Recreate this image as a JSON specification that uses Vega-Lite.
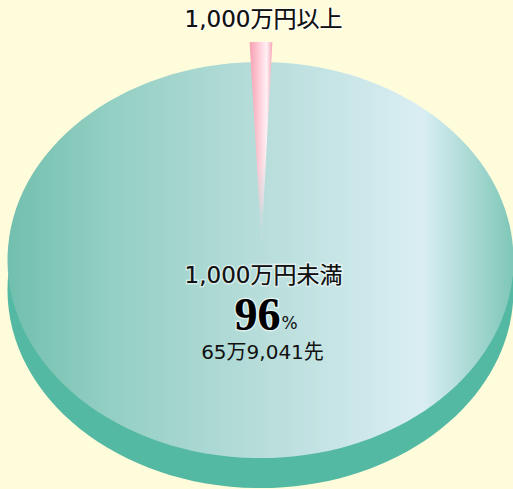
{
  "$schema": "https://vega.github.io/schema/vega-lite/v6.json",
  "width": 513,
  "height": 489,
  "autosize": {"type": "fit", "contains": "padding"},
  "padding": 0,
  "background": "#FFFCDC",
  "config": {"view": {"stroke": null}},
  "datasets": {
    "pie": [
      {"category": "1,000万円未満", "share": 96, "count": "65万9,041先", "cx": 261, "cy": 260},
      {"category": "1,000万円以上", "share": 4, "count": "", "cx": 262, "cy": 240}
    ],
    "labels": [
      {"role": "outer", "text": "1,000万円以上", "x": 264, "y": 20},
      {"role": "inner", "text": "1,000万円未満", "x": 264, "y": 276},
      {"role": "count", "text": "65万9,041先", "x": 263, "y": 353},
      {"role": "pct", "text": "96", "x": 281, "y": 330},
      {"role": "pctsign", "text": "%", "x": 282, "y": 329}
    ]
  },
  "encoding": {
    "x": {"field": "x", "type": "quantitative", "scale": {"domain": [0, 513]}, "axis": null},
    "y": {"field": "y", "type": "quantitative", "scale": {"domain": [0, 489], "reverse": true}, "axis": null}
  },
  "layer": [
    {
      "data": {"name": "pie"},
      "transform": [{"filter": "datum.share > 50"}, {"calculate": "datum.cy + 30", "as": "sy"}],
      "mark": {
        "type": "point",
        "shape": "M -1 0 A 1 0.783 0 1 0 1 0 A 1 0.783 0 1 0 -1 0 Z",
        "size": 256036,
        "filled": true,
        "opacity": 1,
        "strokeWidth": 0,
        "fill": "#54B9A2"
      },
      "encoding": {
        "x": {"field": "cx", "type": "quantitative", "scale": {"domain": [0, 513]}, "axis": null},
        "y": {"field": "sy", "type": "quantitative", "scale": {"domain": [0, 489], "reverse": true}, "axis": null}
      }
    },
    {
      "data": {"name": "pie"},
      "transform": [{"filter": "datum.share > 50"}],
      "mark": {
        "type": "point",
        "shape": "M -1 0 A 1 0.783 0 1 0 1 0 A 1 0.783 0 1 0 -1 0 Z",
        "size": 256036,
        "filled": true,
        "opacity": 1,
        "strokeWidth": 0,
        "fill": {
          "gradient": "linear", "x1": 0, "y1": 0, "x2": 1, "y2": 0,
          "stops": [
            {"offset": 0, "color": "#72BFAE"},
            {"offset": 0.2, "color": "#93CFC3"},
            {"offset": 0.5, "color": "#B7DDDA"},
            {"offset": 0.82, "color": "#DAEEF3"},
            {"offset": 1, "color": "#7EC7B7"}
          ]
        }
      },
      "encoding": {
        "x": {"field": "cx", "type": "quantitative", "scale": {"domain": [0, 513]}, "axis": null},
        "y": {"field": "cy", "type": "quantitative", "scale": {"domain": [0, 489], "reverse": true}, "axis": null}
      }
    },
    {
      "data": {"name": "pie"},
      "transform": [{"filter": "datum.share < 50"}],
      "mark": {
        "type": "point",
        "shape": "M 0 0 L -0.047 -0.782 A 1 0.783 0 0 1 0.043 -0.782 Z",
        "size": 256036,
        "filled": true,
        "opacity": 1,
        "strokeWidth": 0,
        "fill": {
          "gradient": "linear", "x1": 0, "y1": 0, "x2": 1, "y2": 0,
          "stops": [
            {"offset": 0, "color": "#F79FB1"},
            {"offset": 0.45, "color": "#FFCFDA"},
            {"offset": 0.75, "color": "#FFF1F5"},
            {"offset": 1, "color": "#F5A5B6"}
          ]
        }
      },
      "encoding": {
        "x": {"field": "cx", "type": "quantitative", "scale": {"domain": [0, 513]}, "axis": null},
        "y": {"field": "cy", "type": "quantitative", "scale": {"domain": [0, 489], "reverse": true}, "axis": null}
      }
    },
    {
      "data": {"name": "pie"},
      "transform": [{"filter": "datum.share < 50"}],
      "mark": {
        "type": "point",
        "shape": "M 0 0 L -0.047 -0.782 A 1 0.783 0 0 1 0.043 -0.782 Z",
        "size": 256036,
        "filled": true,
        "opacity": 1,
        "strokeWidth": 0,
        "fill": {
          "gradient": "linear", "x1": 0, "y1": 0, "x2": 0, "y2": 1,
          "stops": [
            {"offset": 0, "color": "rgba(183,221,218,0)"},
            {"offset": 0.62, "color": "rgba(183,221,218,0.05)"},
            {"offset": 0.8, "color": "rgba(183,221,218,0.45)"},
            {"offset": 0.93, "color": "rgba(183,221,218,1)"},
            {"offset": 1, "color": "rgba(183,221,218,1)"}
          ]
        }
      },
      "encoding": {
        "x": {"field": "cx", "type": "quantitative", "scale": {"domain": [0, 513]}, "axis": null},
        "y": {"field": "cy", "type": "quantitative", "scale": {"domain": [0, 489], "reverse": true}, "axis": null}
      }
    },
    {
      "data": {"name": "labels"},
      "transform": [{"filter": "datum.role == 'outer' || datum.role == 'inner'"}],
      "mark": {"type": "text", "font": "DejaVu Sans, Noto Sans CJK JP", "fontSize": 23, "baseline": "middle", "align": "center", "fill": "#111111", "stroke": "#ffffff", "strokeWidth": 3, "strokeOpacity": 0.5},
      "encoding": {"text": {"field": "text"}}
    },
    {
      "data": {"name": "labels"},
      "transform": [{"filter": "datum.role == 'outer' || datum.role == 'inner'"}],
      "mark": {"type": "text", "font": "DejaVu Sans, Noto Sans CJK JP", "fontSize": 23, "baseline": "middle", "align": "center", "fill": "#111111"},
      "encoding": {"text": {"field": "text"}}
    },
    {
      "data": {"name": "labels"},
      "transform": [{"filter": "datum.role == 'count'"}],
      "mark": {"type": "text", "font": "DejaVu Sans, Noto Sans CJK JP", "fontSize": 20, "baseline": "middle", "align": "center", "fill": "#111111"},
      "encoding": {"text": {"field": "text"}}
    },
    {
      "data": {"name": "labels"},
      "transform": [{"filter": "datum.role == 'pct'"}],
      "mark": {"type": "text", "font": "Liberation Serif", "fontWeight": "bold", "fontSize": 46, "baseline": "alphabetic", "align": "right", "fill": "#000000", "stroke": "#ffffff", "strokeWidth": 3, "strokeOpacity": 0.6},
      "encoding": {"text": {"field": "text"}}
    },
    {
      "data": {"name": "labels"},
      "transform": [{"filter": "datum.role == 'pct'"}],
      "mark": {"type": "text", "font": "Liberation Serif", "fontWeight": "bold", "fontSize": 46, "baseline": "alphabetic", "align": "right", "fill": "#000000"},
      "encoding": {"text": {"field": "text"}}
    },
    {
      "data": {"name": "labels"},
      "transform": [{"filter": "datum.role == 'pctsign'"}],
      "mark": {"type": "text", "font": "DejaVu Sans", "fontSize": 17, "baseline": "alphabetic", "align": "left", "fill": "#111111"},
      "encoding": {"text": {"field": "text"}}
    }
  ]
}
